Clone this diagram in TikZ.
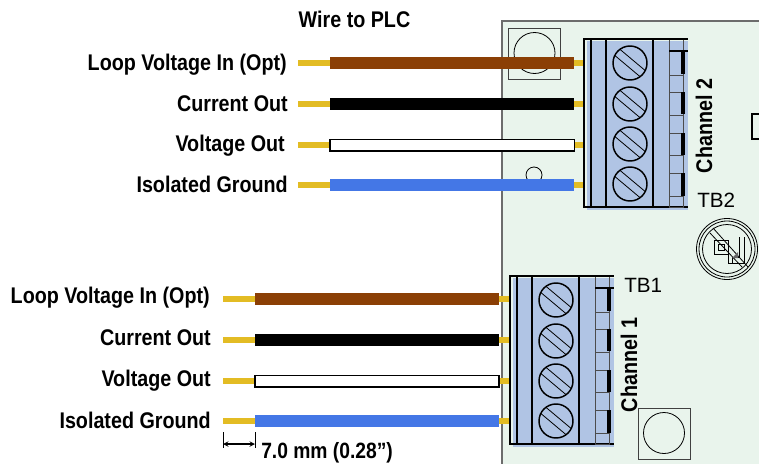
\documentclass[tikz,border=0pt]{standalone}
\usepackage{fontspec}
\setmainfont{Liberation Sans}
\newfontfamily\narrowb[FakeStretch=0.87]{Liberation Sans Bold}
\definecolor{boardc}{HTML}{E9F4EC}
\definecolor{blockc}{HTML}{B0C4E4}
\definecolor{stubc}{HTML}{E3BC24}
\definecolor{brownw}{HTML}{8B3F05}
\definecolor{bluew}{HTML}{4477E6}
\tikzset{
  x=0.75pt,y=-0.75pt,
  lab/.style={font=\narrowb\fontsize{17}{18}\selectfont,inner sep=0pt,text=black},
  stub/.style={stubc,line width=4.6pt},
  wirefill/.style={line width=9pt},
  thinl/.style={draw=black,line width=0.6pt},
  heavy/.style={draw=black,line width=1.6pt},
  mid/.style={draw=black,line width=0.9pt},
  tbtext/.style={font=\fontsize{15.5}{16}\selectfont,inner sep=0pt},
}
\newcommand{\tblock}[2]{%
\begin{scope}[shift={(#1,#2)}]
  \fill[blockc] (587,41) rectangle (688,210);
  \foreach \yy in {63,104,144,184}{
    \draw[mid,line width=1.1pt] (630,\yy) circle[radius=17];
    \begin{scope}[shift={(630,\yy)},rotate=-40]
      \draw[thinl] (-16.5,-4) -- (16.5,-4);
      \draw[thinl] (-16.5,4) -- (16.5,4);
    \end{scope}
  }
  \foreach \xx in {584,591,606,653}{\draw[heavy] (\xx,38) -- (\xx,208);}
  \draw[draw=black!70,line width=0.6pt] (669,38) -- (669,208);
  \draw[draw=black!70,line width=0.6pt] (683,38) -- (683,208);
  \draw[heavy] (584,39) -- (688,39);
  \draw[heavy] (584,207) -- (688,207);
  \draw[draw=black,line width=1.4pt] (669,51) -- (688,51);
  \foreach \ya/\yb in {75/92,115/133,155/173,196/207}{
    \draw[draw=black!70,line width=0.6pt] (669,\ya) rectangle (683,\yb);
  }
  \foreach \ya/\yb in {51/74,92/114,133/155,173/196}{
    \draw[draw=black,line width=2.4pt] (683,\ya) -- (683,\yb);
  }
\end{scope}}
\begin{document}
\begin{tikzpicture}
\useasboundingbox (0,0) rectangle (759,464);
% board
\fill[boardc] (502,21) rectangle (759,464);
\draw[gray!85!black,line width=0.8pt] (759,21) -- (502,21) -- (502,464);
% mounting holes
\draw[thinl,draw=black!75] (508,28) rectangle (560,79);
\draw[thinl] (534.5,53) circle[radius=20.5];
\draw[thinl] (534,175) circle[radius=8];
\draw[thinl,draw=black!75] (638,408) rectangle (690,459);
\draw[thinl] (664,433) circle[radius=20.5];
% no-clean symbol
\draw[thinl] (727,249) circle[radius=30.5];
\draw[thinl] (727,249) circle[radius=28];
\draw[thinl] (727,249) circle[radius=24.5];
\draw[thinl] (713,228) -- (748,267);
\draw[thinl] (710,233) -- (742,267);
\draw[thinl] (714,240) -- (728,240) -- (728,263) -- (735,263);
\draw[thinl] (714,240) -- (714,254) -- (728,254);
\draw[thinl] (718,244) -- (724,244) -- (724,250) -- (718,250) -- cycle;
\draw[thinl] (744,237) -- (744,263) -- (735,263);
\draw[thinl] (739,237) -- (739,257) -- (732,257) -- (732,263);
\fill[black!60] (732,258) -- (738,252) -- (738,258) -- cycle;
% edge mark
\draw[draw=black,line width=1.5pt] (759,113.5) -- (751.5,113.5) -- (751.5,138.5) -- (759,138.5);
% wires and stubs
\foreach \yy in {63,104,145,185}{
  \draw[stub] (298,\yy) -- (330,\yy);
  \draw[stub] (574,\yy) -- (584,\yy);
}
\foreach \yy in {299,340,381,421}{
  \draw[stub] (223,\yy) -- (255,\yy);
  \draw[stub] (499,\yy) -- (510,\yy);
}
\foreach \a/\b/\yy/\c in {330/574/63/brownw,330/574/104/black,330/574/185/bluew,255/499/299/brownw,255/499/340/black,255/499/421/bluew}{
  \draw[\c,wirefill] (\a,\yy) -- (\b,\yy);
}
\draw[black,fill=white,line width=1.1pt] (330,139.5) rectangle (574.5,151);
\draw[black,fill=white,line width=1.1pt] (255,375.5) rectangle (499,387);
% terminal blocks
\tblock{0}{0}
\tblock{-74}{237}
% labels
\node[lab,anchor=base] (title) at (354.5,27.5) {Wire to PLC};
\node[lab,anchor=base east] (a1) at (287,70) {Loop Voltage In (Opt)};
\node[lab,anchor=base east] (a2) at (288,111) {Current Out};
\node[lab,anchor=base east] (a3) at (285,151) {Voltage Out};
\node[lab,anchor=base east] (a4) at (288,192) {Isolated Ground};
\node[lab,anchor=base east] (b1) at (210,303) {Loop Voltage In (Opt)};
\node[lab,anchor=base east] (b2) at (211,345) {Current Out};
\node[lab,anchor=base east] (b3) at (211,386) {Voltage Out};
\node[lab,anchor=base east] (b4) at (211,428) {Isolated Ground};
\node[lab,rotate=90,anchor=base] (ch2) at (712,126) {Channel 2};
\node[lab,rotate=90,anchor=base] (ch1) at (637,365) {Channel 1};
\node[tbtext,anchor=base west] (tb2) at (697,207) {TB2};
\node[tbtext,anchor=base west] (tb1) at (624,292) {TB1};
% dimension
\coordinate (d1) at (223,444);
\coordinate (d2) at (255,444);
\draw[draw=black,line width=0.7pt] (223,432) -- (223,448);
\draw[draw=black,line width=0.7pt] (255,432) -- (255,448);
\draw[draw=black,line width=0.8pt,<->,>=stealth] (d1) -- (d2);
\node[lab,anchor=base west,font=\narrowb\fontsize{16.6}{18}\selectfont] (dim) at (261,458) {7.0 mm (0.28”)};
\end{tikzpicture}
\end{document}
